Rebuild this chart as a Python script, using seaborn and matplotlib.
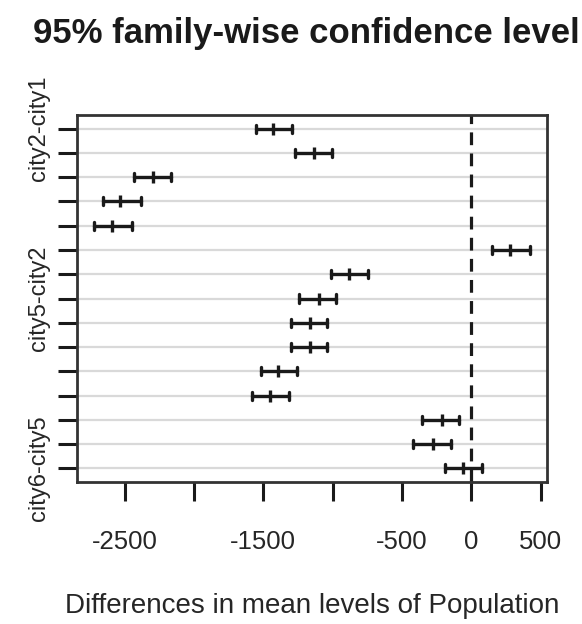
import matplotlib
matplotlib.use("Agg")
import matplotlib.pyplot as plt
import seaborn as sns
import pandas as pd
import numpy as np

comparisons = ["city2-city1", "city3-city1", "city4-city1", "city5-city1", "city6-city1",
               "city3-city2", "city4-city2", "city5-city2", "city6-city2", "city4-city3",
               "city5-city3", "city6-city3", "city5-city4", "city6-city4", "city6-city5"]
lwr  = [-1556, -1275, -2434, -2657, -2717,  148, -1012, -1240, -1302, -1302, -1520, -1579, -355, -419, -187]
diff = [-1429, -1136, -2298, -2530, -2590,  275,  -883, -1101, -1162, -1162, -1394, -1455, -215, -276,  -60]
upr  = [-1290, -1008, -2166, -2382, -2446,  419,  -742,  -974, -1040, -1040, -1258, -1318,  -89, -149,   79]
shown_labels = ["city2-city1", "city5-city2", "city6-city5"]
xticks = [-2500, -2000, -1500, -1000, -500, 0, 500]
xtick_labels = ["-2500", "", "-1500", "", "-500", "0", "500"]

sns.set_theme(style="white")
plt.rcParams["font.family"] = ["Liberation Sans", "DejaVu Sans"]

rows = []
for c, l, d, u in zip(comparisons, lwr, diff, upr):
    for v in (l, d, u):
        rows.append({"comparison": c, "value": v})
df = pd.DataFrame(rows)

fig = plt.figure(figsize=(5.82, 6.24), dpi=100)
ax = fig.add_axes([77/582, 1-482/624, (547-77)/582, (482-115)/624])

sns.pointplot(data=df, x="value", y="comparison", order=comparisons,
              estimator="median", errorbar=("pi", 100),
              linestyle="none", marker="|", markersize=9, markeredgewidth=2.4,
              color="#1a1a1a", capsize=0.33, err_kws={"linewidth": 2.4},
              ax=ax, zorder=3)

ax.axvline(0, color="#1a1a1a", lw=2.3, ls=(0, (4, 2.6)), zorder=2)

lo, hi = min(lwr), max(upr)
pad = 0.04 * (hi - lo)
ax.set_xlim(lo - pad, hi + pad)
n = len(comparisons)
ax.set_ylim(n - 1 + 0.56, -0.56)

ax.set_yticks(range(n))
ax.set_yticklabels([c if c in shown_labels else "" for c in comparisons],
                   rotation=90, va="center", fontsize=17, color="#262626")
ax.set_xticks(xticks)
ax.set_xticklabels(xtick_labels, fontsize=18.5, color="#262626")

ax.grid(axis="y", color="#d9d9d9", lw=1.6, zorder=0)
ax.set_axisbelow(True)
ax.tick_params(axis="both", bottom=True, left=True, length=13.5, width=2.2,
               color="#1a1a1a", direction="out")
ax.tick_params(axis="x", pad=21)
ax.tick_params(axis="y", pad=6)
for s in ax.spines.values():
    s.set_color("#333333")
    s.set_linewidth(2)

ax.set_xlabel("Differences in mean levels of Population", fontsize=20, color="#262626", labelpad=28)
ax.set_ylabel("")
fig.text(0.527, 1-33/624, "95% family-wise confidence level", ha="center", va="center",
         fontsize=25, fontweight="bold", color="#1a1a1a")

fig.savefig("out.png", dpi=100)
